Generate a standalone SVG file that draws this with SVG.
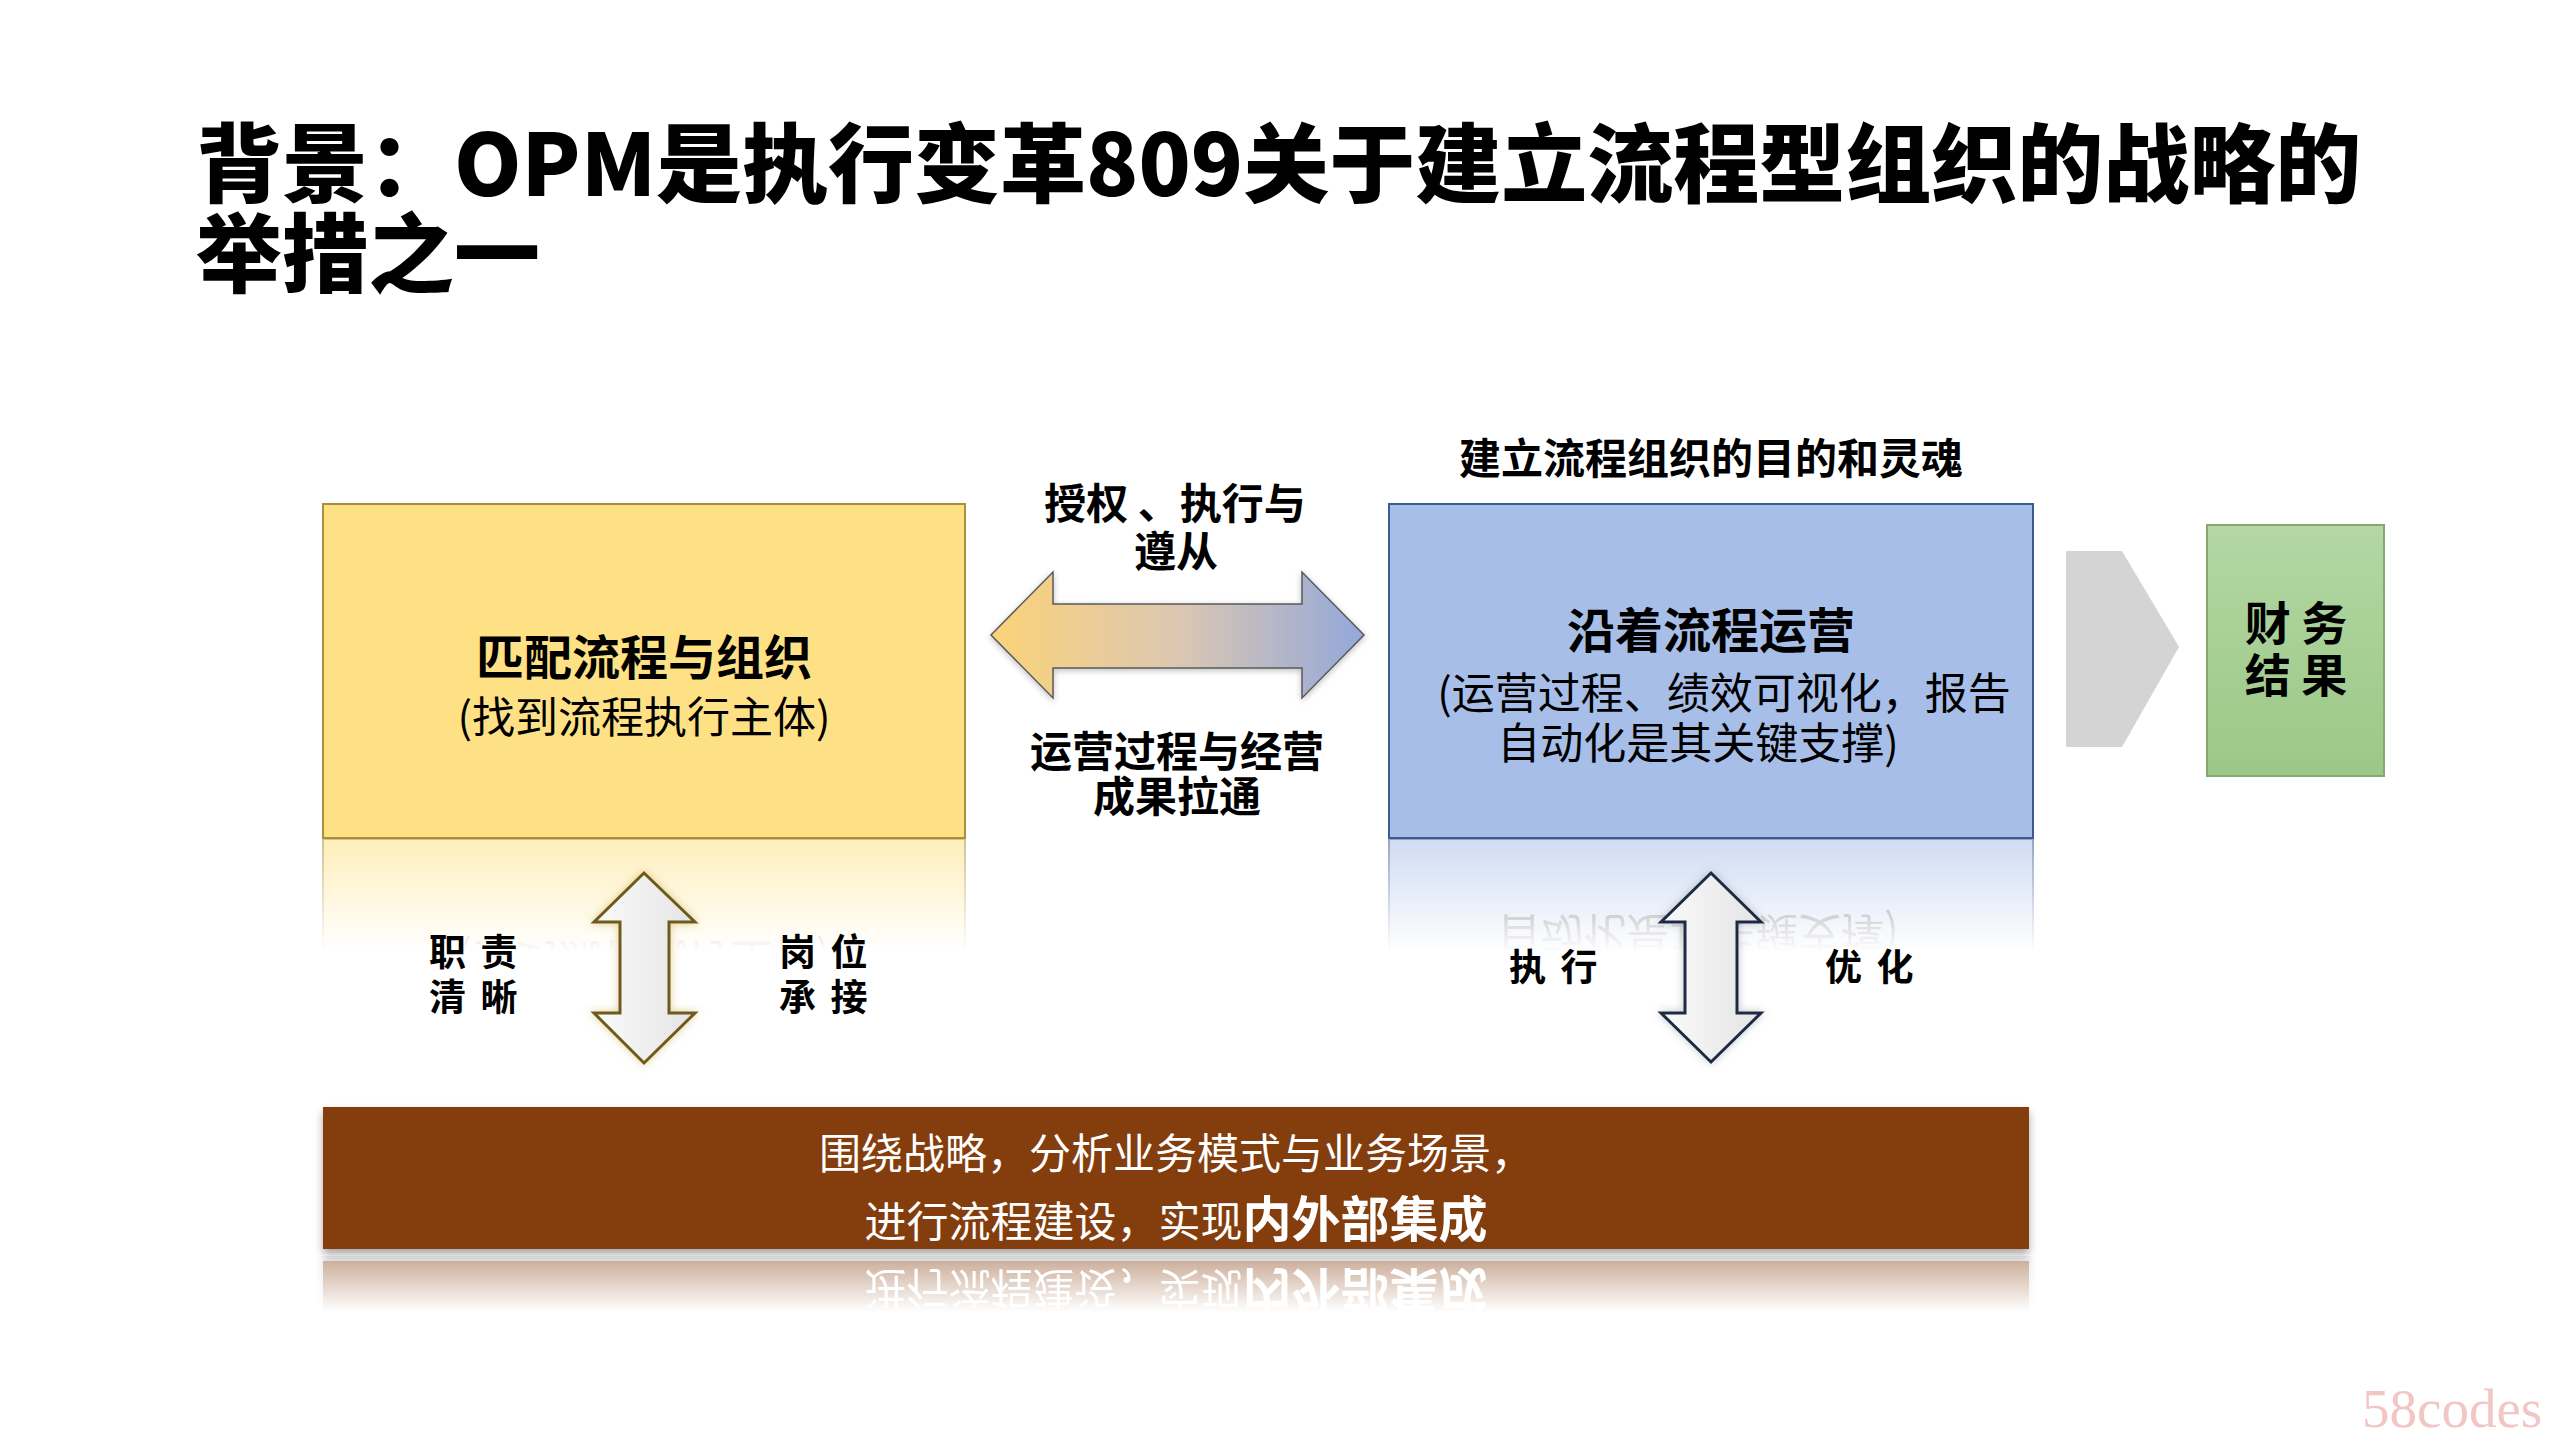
<svg xmlns="http://www.w3.org/2000/svg" xmlns:xlink="http://www.w3.org/1999/xlink" width="2560" height="1440" viewBox="0 0 2560 1440">
  <style>
    text { font-family: "Noto Sans CJK SC", "Noto Sans", sans-serif; }
    .title { font-size: 86px; font-weight: 900; fill: #000; }
    .head { font-size: 48px; font-weight: 700; fill: #000; text-anchor: middle; }
    .sub { font-size: 43px; font-weight: 400; fill: #000; text-anchor: middle; }
    .lbl { font-size: 42px; font-weight: 700; fill: #000; text-anchor: middle; }
    .side { font-size: 37px; font-weight: 700; fill: #000; word-spacing: 6px; }
    .fin { font-size: 46px; font-weight: 700; fill: #000; text-anchor: middle; }
    .ban { font-size: 42px; font-weight: 400; fill: #fff; text-anchor: middle; }
    .banb { font-size: 49px; font-weight: 700; }
    .wm { font-family: "Liberation Serif", serif; font-size: 55px; fill: #F3C6C6; }
  </style>
  <defs>
    <linearGradient id="gArrowH" x1="0" y1="0" x2="1" y2="0">
      <stop offset="0" stop-color="#FCD377"/>
      <stop offset="0.5" stop-color="#DCC7B2"/>
      <stop offset="1" stop-color="#93A8DA"/>
    </linearGradient>
    <linearGradient id="gArrowV" x1="0" y1="0" x2="1" y2="0">
      <stop offset="0" stop-color="#FAFAFA"/>
      <stop offset="1" stop-color="#E4E4E4"/>
    </linearGradient>
    <linearGradient id="gGreen" x1="0" y1="0" x2="0" y2="1">
      <stop offset="0" stop-color="#B4D7A4"/>
      <stop offset="1" stop-color="#9BC886"/>
    </linearGradient>
    <linearGradient id="fadeYellow" gradientUnits="userSpaceOnUse" x1="0" y1="839" x2="0" y2="952">
      <stop offset="0" stop-color="#fff" stop-opacity="0.55"/>
      <stop offset="1" stop-color="#fff" stop-opacity="0"/>
    </linearGradient>
    <linearGradient id="fadeBanner" gradientUnits="userSpaceOnUse" x1="0" y1="1256" x2="0" y2="1312">
      <stop offset="0" stop-color="#fff" stop-opacity="0.45"/>
      <stop offset="1" stop-color="#fff" stop-opacity="0"/>
    </linearGradient>
    <mask id="mYellow" maskUnits="userSpaceOnUse" x="0" y="0" width="2560" height="1440">
      <rect x="300" y="839" width="700" height="115" fill="url(#fadeYellow)"/>
    </mask>
    <mask id="mBlue" maskUnits="userSpaceOnUse" x="0" y="0" width="2560" height="1440">
      <rect x="1370" y="839" width="700" height="115" fill="url(#fadeYellow)"/>
    </mask>
    <mask id="mBanner" maskUnits="userSpaceOnUse" x="0" y="0" width="2560" height="1440">
      <rect x="300" y="1256" width="1760" height="60" fill="url(#fadeBanner)"/>
    </mask>
    <filter id="fShadow" x="-5%" y="-20%" width="110%" height="150%">
      <feDropShadow dx="0" dy="5" stdDeviation="4" flood-color="#000" flood-opacity="0.35"/>
    </filter>
    <filter id="fGlowGold" x="-30%" y="-20%" width="160%" height="140%">
      <feDropShadow dx="0" dy="0" stdDeviation="4" flood-color="#C8A840" flood-opacity="0.55"/>
    </filter>
    <filter id="fGlowGray" x="-30%" y="-20%" width="160%" height="140%">
      <feDropShadow dx="0" dy="0" stdDeviation="4" flood-color="#7A8090" flood-opacity="0.45"/>
    </filter>
    <filter id="fSoft" x="-10%" y="-30%" width="120%" height="160%">
      <feDropShadow dx="0" dy="2" stdDeviation="3" flood-color="#000" flood-opacity="0.25"/>
    </filter>
  </defs>

  <rect x="0" y="0" width="2560" height="1440" fill="#fff"/>

  <!-- Title -->
  <g id="title">
    <text class="title"><tspan x="196" y="196">背景：OPM是执行变革809关于建立流程型组织的战略的</tspan><tspan x="196" y="286">举措之一</tspan></text>
  </g>

  <!-- Reflections -->
  <g id="reflections">
    <g mask="url(#mYellow)">
      <use xlink:href="#node-match" href="#node-match" transform="matrix(1,0,0,-1,0,1677)"/>
    </g>
    <g mask="url(#mBlue)">
      <use xlink:href="#node-operate" href="#node-operate" transform="matrix(1,0,0,-1,0,1677)"/>
    </g>
    <g mask="url(#mBanner)">
      <use xlink:href="#node-banner-body" href="#node-banner-body" transform="matrix(1,0,0,-1,0,2510)"/>
    </g>
  </g>

  <!-- Left box -->
  <g id="node-match">
    <rect x="323" y="504" width="642" height="334" fill="#FEE185" stroke="#A88F3A" stroke-width="2"/>
    <text class="head" x="644" y="675">匹配流程与组织</text>
    <text class="sub" x="644" y="733">(找到流程执行主体)</text>
  </g>

  <!-- Right (blue) box -->
  <g id="node-operate-caption">
    <text class="lbl" x="1711" y="474">建立流程组织的目的和灵魂</text>
  </g>
  <g id="node-operate">
    <rect x="1389" y="504" width="644" height="334" fill="#A7BFE8" stroke="#3E5A92" stroke-width="2"/>
    <text class="head" x="1711" y="648">沿着流程运营</text>
    <text class="sub"><tspan x="1724" y="709">(运营过程、绩效可视化，报告</tspan><tspan x="1698" y="759">自动化是其关键支撑)</tspan></text>
  </g>

  <!-- Finance box -->
  <g id="node-finance">
    <rect x="2207" y="525" width="177" height="251" fill="url(#gGreen)" stroke="#84A870" stroke-width="2"/>
    <text class="fin"><tspan x="2296" y="640">财 务</tspan><tspan x="2296" y="692">结 果</tspan></text>
  </g>

  <!-- Bottom banner -->
  <g id="node-banner">
    <g id="node-banner-body">
      <rect x="323" y="1107" width="1706" height="142" fill="#843C0C" filter="url(#fShadow)"/>
      <text class="ban"><tspan x="1176" y="1169">围绕战略，分析业务模式与业务场景，</tspan><tspan x="1176" y="1237">进行流程建设，实现<tspan class="banb">内外部集成</tspan></tspan></text>
    </g>
  </g>

  <!-- Connectors -->
  <g id="connectors">
    <path id="arrow-h" d="M991,635 L1053,572 L1053,604 L1302,604 L1302,572 L1364,635 L1302,698 L1302,668 L1053,668 L1053,698 Z" fill="url(#gArrowH)" stroke="#5A5A5A" stroke-width="1.5" stroke-linejoin="miter" filter="url(#fSoft)"/>
    <path id="arrow-v-left" d="M644,873 L695,922 L669,922 L669,1013 L695,1013 L644,1063 L594,1013 L620,1013 L620,922 L594,922 Z" fill="url(#gArrowV)" stroke="#6E5A1E" stroke-width="3" stroke-linejoin="miter" filter="url(#fGlowGold)"/>
    <path id="arrow-v-right" d="M1711,873 L1761,922 L1737,922 L1737,1013 L1761,1013 L1711,1062 L1661,1013 L1685,1013 L1685,922 L1661,922 Z" fill="url(#gArrowV)" stroke="#1F2A44" stroke-width="3" stroke-linejoin="miter" filter="url(#fGlowGray)"/>
    <path id="chevron" d="M2066,551 L2122,551 L2179,647 L2122,747 L2066,747 Z" fill="#D4D4D4"/>
  </g>

  <!-- Connector labels -->
  <g id="label-arrow-h">
    <text class="lbl"><tspan x="1175" y="519">授权 、执行与</tspan><tspan x="1176" y="567">遵从</tspan></text>
    <text class="lbl"><tspan x="1177" y="767">运营过程与经营</tspan><tspan x="1177" y="812">成果拉通</tspan></text>
  </g>
  <g id="label-arrow-v-left">
    <text class="side"><tspan x="429" y="966">职 责</tspan><tspan x="429" y="1011">清 晰</tspan></text>
    <text class="side"><tspan x="779" y="966">岗 位</tspan><tspan x="779" y="1011">承 接</tspan></text>
  </g>
  <g id="label-arrow-v-right">
    <text class="side" x="1509" y="981">执 行</text>
    <text class="side" x="1825" y="981">优 化</text>
  </g>

  <text class="wm" x="2362" y="1427">58codes</text>
</svg>
